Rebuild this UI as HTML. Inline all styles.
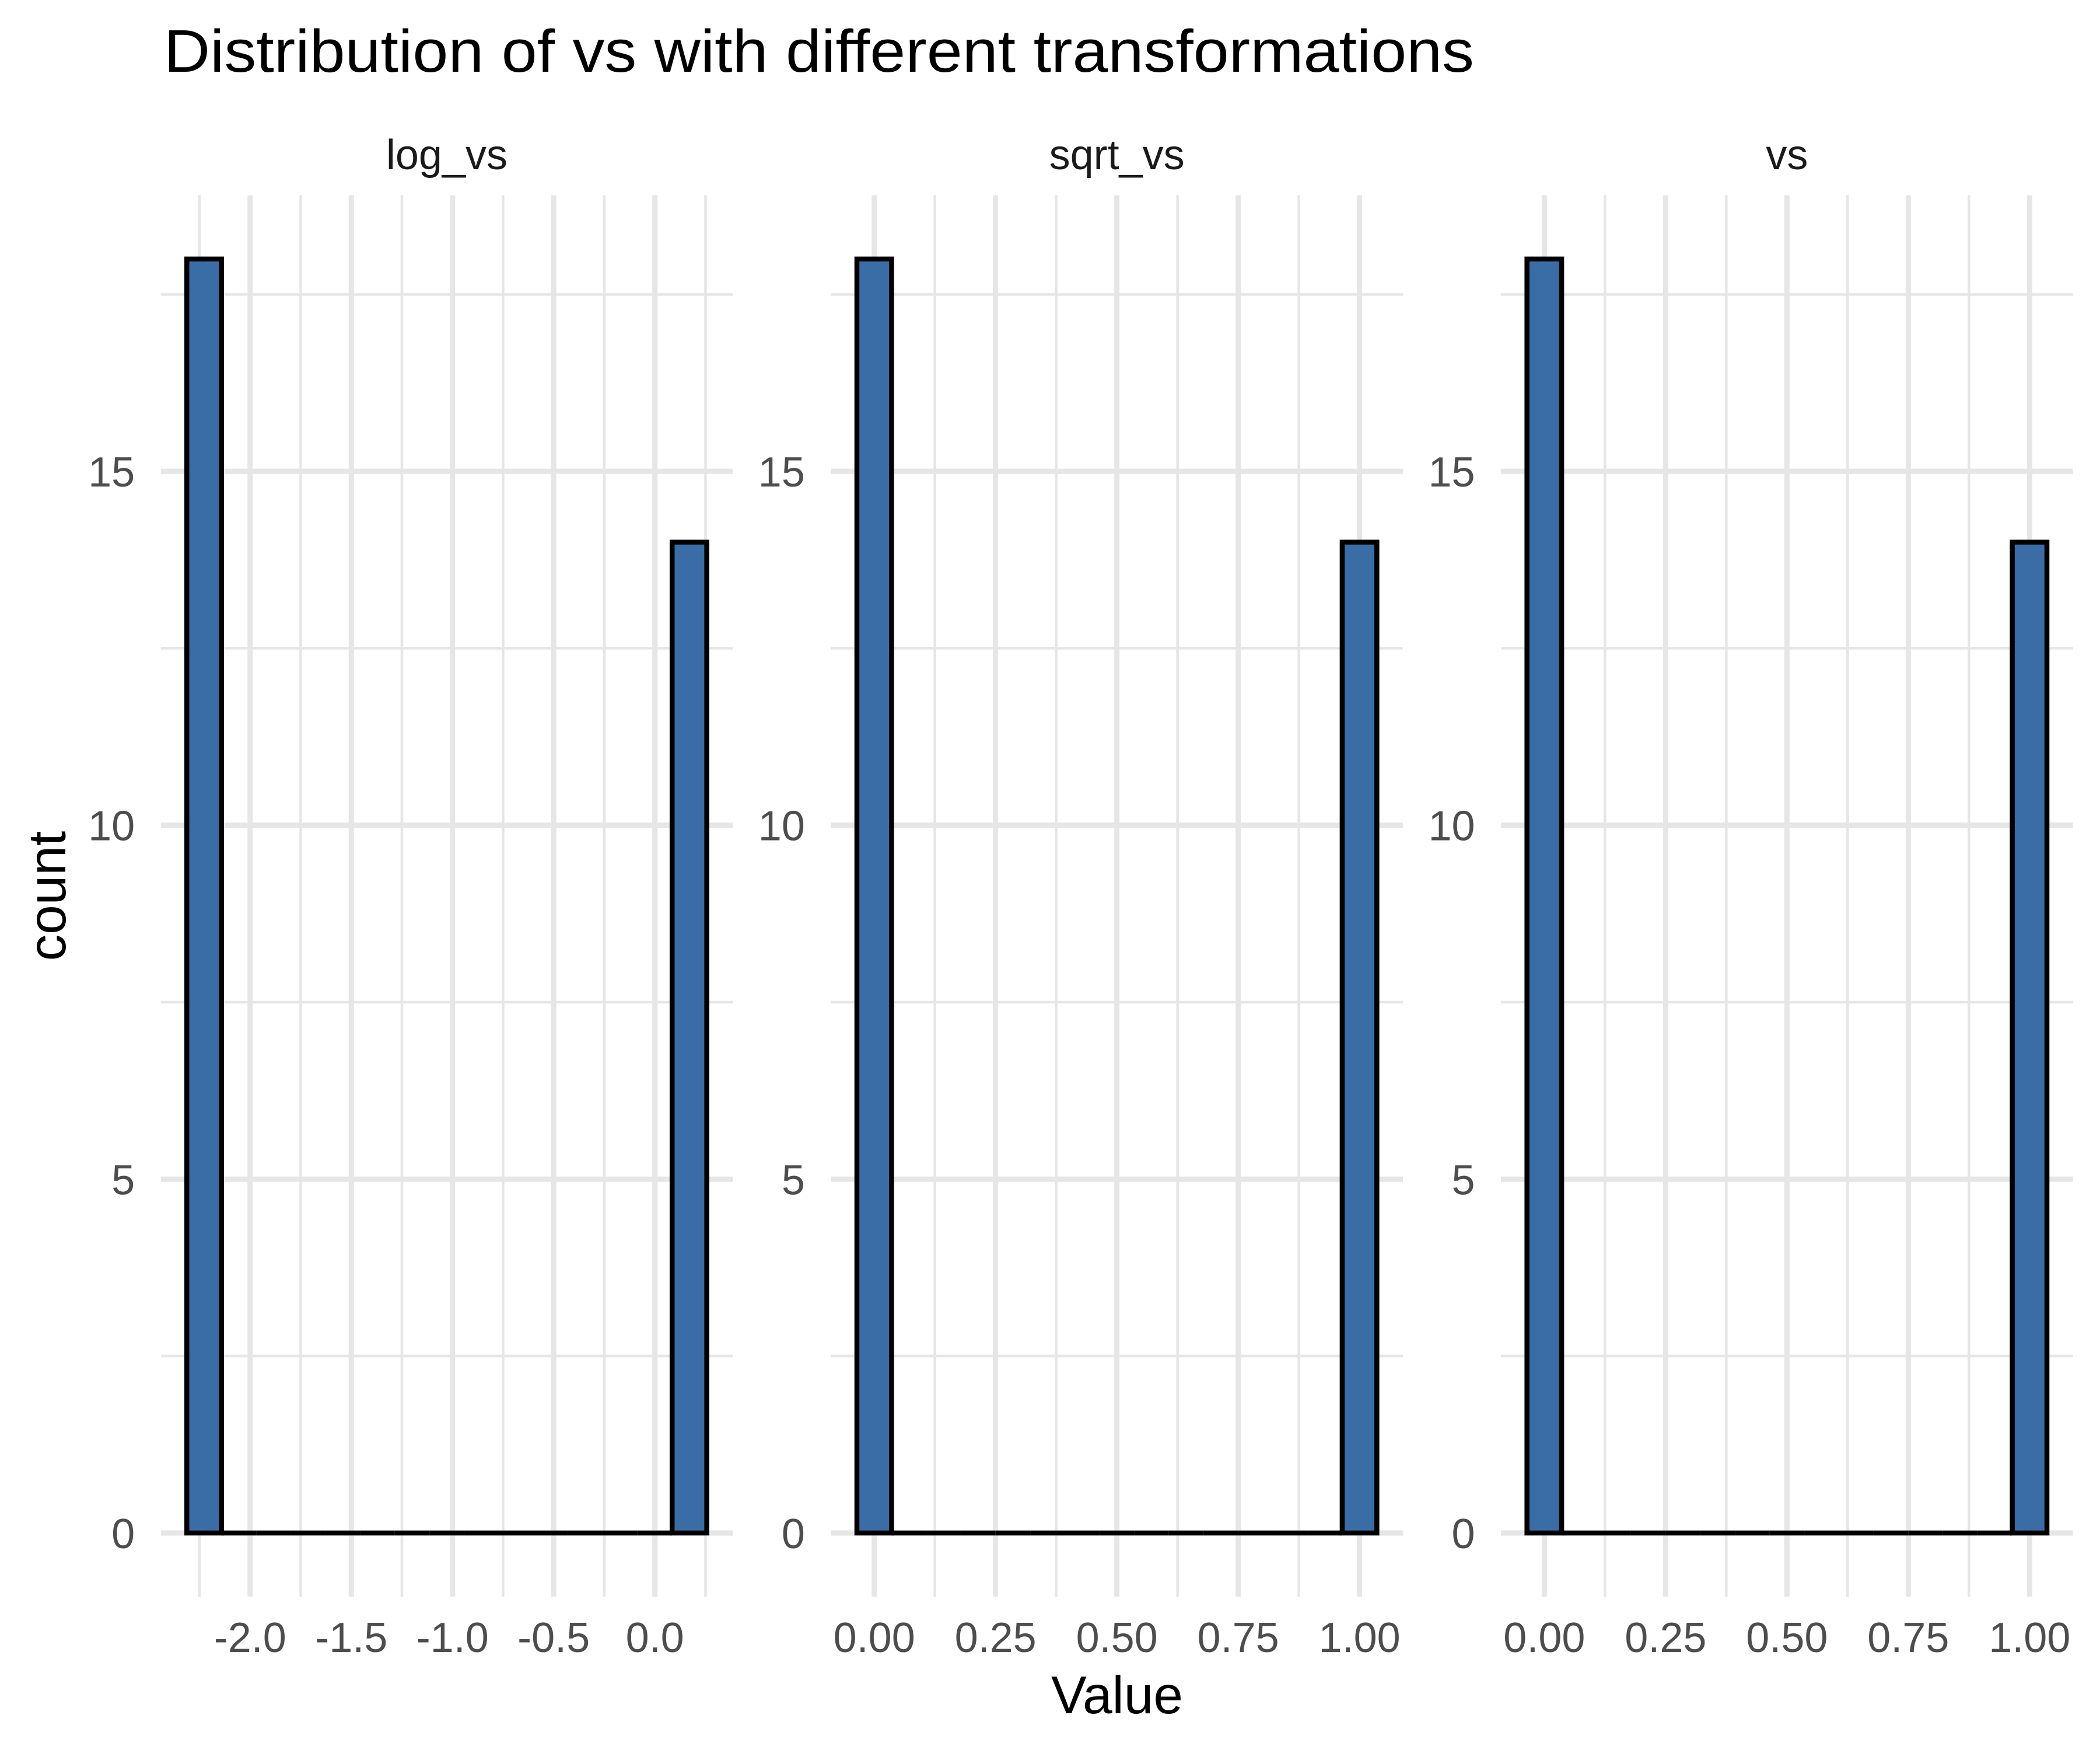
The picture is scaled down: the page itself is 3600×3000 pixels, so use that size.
<!DOCTYPE html>
<html><head><meta charset="utf-8"><title>Distribution of vs</title>
<style>html,body{margin:0;padding:0;background:#fff}svg{display:block}text{font-family:"Liberation Sans",Arial,sans-serif}</style>
</head><body>
<svg id="chart" xmlns="http://www.w3.org/2000/svg" width="3600" height="3000" viewBox="0 0 3600 3000">
<rect x="0" y="0" width="3600" height="3000" fill="#fff"/>
<text x="281" y="123" font-size="103" fill="#000" textLength="2246" lengthAdjust="spacingAndGlyphs">Distribution of vs with different transformations</text>
<text transform="translate(112,1536) rotate(-90)" text-anchor="middle" font-size="91" fill="#000">count</text>
<text x="1915" y="2937" text-anchor="middle" font-size="91" fill="#000">Value</text>
<g id="panels"></g>
</svg>
<script>
// Facet names
const facetNames = ["log_vs", "sqrt_vs", "vs"];
// Histogram counts per facet (15 bins each)
const countsLog  = [18,0,0,0,0,0,0,0,0,0,0,0,0,0,14];
const countsSqrt = [18,0,0,0,0,0,0,0,0,0,0,0,0,0,14];
const countsVs   = [18,0,0,0,0,0,0,0,0,0,0,0,0,0,14];
// Bin geometry (data units)
const binStarts = [-2.3128, -0.035714, -0.035714];
const binWidths = [0.17128, 0.071429, 0.071429];
// Axis ticks
const xMajorLog  = [-2.0, -1.5, -1.0, -0.5, 0.0];
const xMajorLogLabels = ["-2.0", "-1.5", "-1.0", "-0.5", "0.0"];
const xMinorLog  = [-2.25, -1.75, -1.25, -0.75, -0.25, 0.25];
const xMajorUnit = [0, 0.25, 0.5, 0.75, 1.0];
const xMajorUnitLabels = ["0.00", "0.25", "0.50", "0.75", "1.00"];
const xMinorUnit = [0.125, 0.375, 0.625, 0.875];
const yMajor = [0, 5, 10, 15];
const yMajorLabels = ["0", "5", "10", "15"];
const yMinor = [2.5, 7.5, 12.5, 17.5];

const NS = "http://www.w3.org/2000/svg";
const panelLefts = [275.7, 1424.4, 2573.1];
const panelW = 980.5, panelTop = 334.8, panelBottom = 2737.2;
const countsAll = [countsLog, countsSqrt, countsVs];
const xMajors = [xMajorLog, xMajorUnit, xMajorUnit];
const xMajorLabs = [xMajorLogLabels, xMajorUnitLabels, xMajorUnitLabels];
const xMinors = [xMinorLog, xMinorUnit, xMinorUnit];
const GRID = "#E6E6E6";

function mk(tag, attrs, parent) {
  const e = document.createElementNS(NS, tag);
  for (const k in attrs) e.setAttribute(k, attrs[k]);
  parent.appendChild(e);
  return e;
}

const root = document.getElementById("panels");
const yMaxAll = Math.max(...countsAll.flat());
const yLo = -0.05 * yMaxAll, yHi = yMaxAll * 1.05;
const yScale = v => panelBottom - (v - yLo) / (yHi - yLo) * (panelBottom - panelTop);

facetNames.forEach((name, p) => {
  const counts = countsAll[p];
  const x0 = binStarts[p], bw = binWidths[p];
  const x1 = x0 + bw * counts.length;
  const pad = 0.05 * (x1 - x0);
  const dLo = x0 - pad, dHi = x1 + pad;
  const L = panelLefts[p];
  const xScale = v => L + (v - dLo) / (dHi - dLo) * panelW;

  const g = mk("g", {}, root);
  
  

  xMinors[p].forEach(v => {
    const l = mk("line", {x1: xScale(v), x2: xScale(v), y1: panelTop, y2: panelBottom, stroke: GRID, "stroke-width": 4.5}, g);
    
    
  });
  yMinor.forEach(v => {
    const l = mk("line", {x1: L, x2: L + panelW, y1: yScale(v), y2: yScale(v), stroke: GRID, "stroke-width": 4.5}, g);
    
    
  });
  xMajors[p].forEach(v => {
    const l = mk("line", {x1: xScale(v), x2: xScale(v), y1: panelTop, y2: panelBottom, stroke: GRID, "stroke-width": 9}, g);
    
    
  });
  yMajor.forEach(v => {
    const l = mk("line", {x1: L, x2: L + panelW, y1: yScale(v), y2: yScale(v), stroke: GRID, "stroke-width": 9}, g);
    
    
  });

  counts.forEach((c, i) => {
    const a = xScale(x0 + i * bw), b = xScale(x0 + (i + 1) * bw);
    const yb = yScale(0), yt = yScale(c);
    const path = mk("path", {d: `M${a} ${yb} V${yt} H${b} V${yb} Z`, fill: "#3A6DA5", stroke: "#000", "stroke-width": 8.5, "stroke-linejoin": "miter"}, g);
    
    
  });

  const st = mk("text", {x: L + panelW / 2, y: 290, "text-anchor": "middle", "font-size": 72, fill: "#1A1A1A"}, g);
  st.textContent = name;
  
  

  yMajor.forEach((v, i) => {
    const t = mk("text", {x: L - 44.5, y: yScale(v) + 26, "text-anchor": "end", "font-size": 72, fill: "#4D4D4D"}, g);
    t.textContent = yMajorLabels[i];
    
    
  });
  xMajors[p].forEach((v, i) => {
    const t = mk("text", {x: xScale(v), y: 2832, "text-anchor": "middle", "font-size": 72, fill: "#4D4D4D"}, g);
    t.textContent = xMajorLabs[p][i];
    
    
  });
});
</script>
</body></html>
